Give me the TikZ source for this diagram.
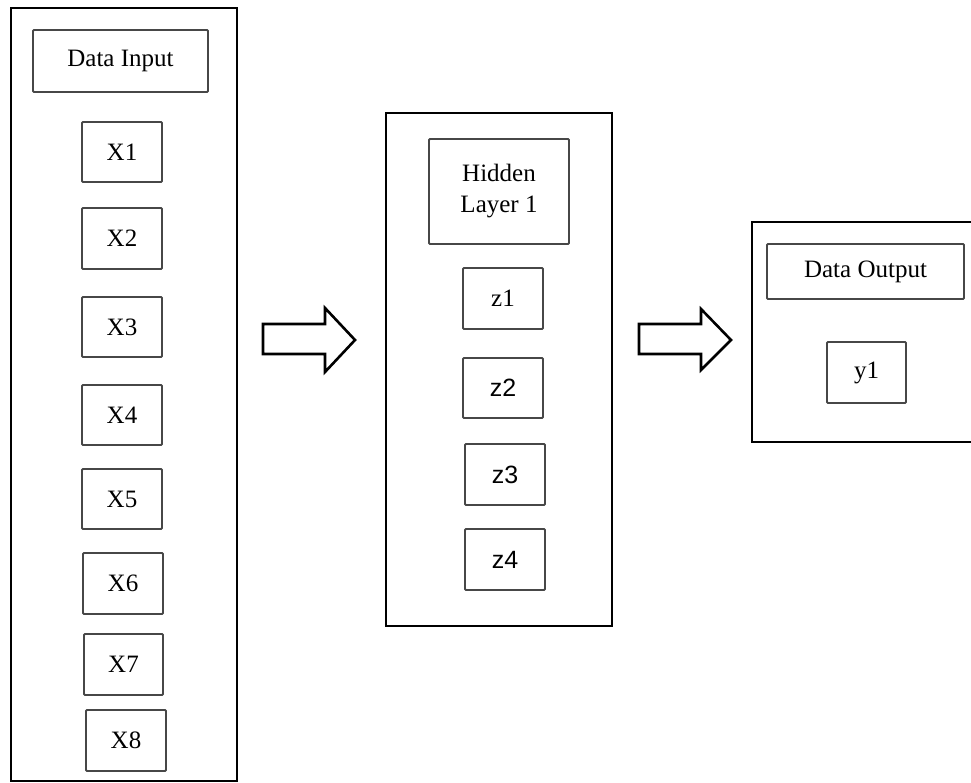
\documentclass[tikz,border=0pt]{standalone}
\usepackage{fontspec}
\setmainfont{Liberation Serif}
\newfontfamily\sansf{Liberation Sans}
\begin{document}
\begin{tikzpicture}[x=1pt,y=-1pt,
  outerbox/.style={draw=black,line width=2.8pt,inner sep=0pt,minimum width=#1},
  cell/.style={draw=black!72,line width=1.8pt,rounded corners=1pt,inner sep=0pt,
    minimum width=80pt,minimum height=60pt,font=\fontsize{25}{31}\selectfont,align=center},
  blockarrow/.style={draw=black,line width=2.6pt,fill=white,line join=miter}]
\useasboundingbox (0,0) rectangle (971,783);
\clip (0,0) rectangle (971,783);
% outer containers
\node[outerbox=226pt,minimum height=773pt] (inbox) at (124,394.5) {};
\node[outerbox=226pt,minimum height=513pt] (hidbox) at (499,369.5) {};
\node[outerbox=238pt,minimum height=220pt] (outbox) at (871,332) {};
% input column
\node[cell,minimum width=175pt,minimum height=62pt] (din) at (120.5,61) {Data Input};
\node[cell] (x1) at (122,152) {X1};
\node[cell,minimum height=61pt] (x2) at (122,238.5) {X2};
\node[cell] (x3) at (122,327) {X3};
\node[cell] (x4) at (122,415) {X4};
\node[cell] (x5) at (122,499) {X5};
\node[cell,minimum height=61pt] (x6) at (123,583.5) {X6};
\node[cell,minimum width=79pt,minimum height=61pt] (x7) at (123.5,664.5) {X7};
\node[cell,minimum height=61pt] (x8) at (126,740.5) {X8};
% hidden column
\node[cell,minimum width=140pt,minimum height=105pt] (hid) at (499,191.5) {Hidden\\Layer 1};
\node[cell,minimum height=61pt] (z1) at (503,298.5) {z1};
\node[cell,font=\sansf\fontsize{25}{31}\selectfont] (z2) at (503,388) {z2};
\node[cell,minimum height=61pt,font=\sansf\fontsize{25}{31}\selectfont] (z3) at (505,474.5) {z3};
\node[cell,minimum height=61pt,font=\sansf\fontsize{25}{31}\selectfont] (z4) at (505,559.5) {z4};
% output column
\node[cell,minimum width=197pt,minimum height=55pt] (dout) at (865.5,271.5) {Data Output};
\node[cell,minimum width=79pt,minimum height=61pt] (y1) at (866.5,372.5) {y1};
% block arrows
\draw[blockarrow] (263,324) -- (325,324) -- (325,308) -- (355,340) -- (325,372) -- (325,354) -- (263,354) -- cycle;
\draw[blockarrow] (639,324) -- (701,324) -- (701,309) -- (731,340) -- (701,370) -- (701,354) -- (639,354) -- cycle;
\end{tikzpicture}
\end{document}
